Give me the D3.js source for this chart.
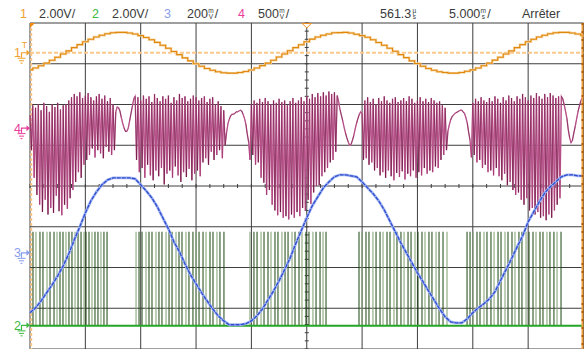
<!DOCTYPE html>
<html>
<head>
<meta charset="utf-8">
<script src="https://cdn.jsdelivr.net/npm/d3@7"></script>
<style>
  body { margin: 0; background: #fff; }
  svg { display: block; font-family: "Liberation Sans", Arial, sans-serif; }
</style>
</head>
<body>
<svg id="scope" width="587" height="349"></svg>
<script>
// ---- acquisition data -------------------------------------------------
// time window: 10 div x 5 ms
const timeSpanMs = 50;

// channel 1, volts, one sample every 0.5 ms
const ch1StepMs = 0.5;
const ch1Volts = [
  -0.84,-0.75,-0.64,-0.51,-0.37,-0.22,-0.06,0.09,0.25,0.40,0.54,0.66,0.77,0.86,0.93,0.98,1.00,1.00,0.97,0.92,
  0.84,0.75,0.64,0.51,0.37,0.22,0.06,-0.09,-0.25,-0.40,-0.54,-0.66,-0.77,-0.86,-0.93,-0.98,-1.00,-1.00,-0.97,-0.92,
  -0.85,-0.75,-0.63,-0.51,-0.37,-0.21,-0.06,0.10,0.25,0.39,0.54,0.67,0.77,0.86,0.92,0.98,0.99,1.00,0.97,0.91,
  0.84,0.76,0.64,0.50,0.37,0.22,0.07,-0.09,-0.24,-0.40,-0.53,-0.66,-0.77,-0.86,-0.93,-0.97,-1.00,-1.00,-0.97,-0.91,
  -0.84,-0.75,-0.64,-0.51,-0.36,-0.22,-0.06,0.09,0.25,0.40,0.54,0.66,0.77,0.86,0.93,0.98,1.00,1.00,0.97,0.92,0.85
];

// channel 3, millivolts, one sample every 0.5 ms
const ch3StepMs = 0.5;
const ch3MilliVolts = [
  -294,-270,-236,-196,-157,-113,-64,-5,64,128,196,255,299,334,358,368,368,368,368,363,
  334,304,270,226,172,118,54,5,-54,-108,-152,-196,-236,-275,-309,-334,-353,-353,-353,-348,
  -334,-309,-275,-231,-187,-137,-83,-25,44,108,172,231,275,319,348,373,383,383,378,373,
  348,319,290,255,211,157,103,49,0,-49,-98,-142,-187,-231,-275,-314,-339,-344,-344,-324,
  -294,-270,-250,-226,-191,-137,-83,-29,29,83,152,201,250,294,324,348,373,383,383,378,378
];

// channel 4, volts; samples every 0.125 ms, stored as alternating pairs (even / odd sample)
const ch4PairMs = 0.25;
const ch4Even = [
  0.16,0.28,0.25,0.29,0.22,0.31,0.27,0.20,0.29,0.26,0.31,0.23,0.28,0.29,0.34,0.38,
  0.42,0.39,0.44,0.37,0.40,0.43,0.38,0.34,0.39,0.42,0.36,0.40,0.33,0.37,0.29,
  0.20,0.25,0.13,0.00,-0.04,0.09,0.27,0.39,
  0.38,0.34,0.40,0.36,0.39,0.32,0.42,0.37,0.33,0.39,0.36,0.40,0.31,0.38,0.34,0.42,
  0.37,0.39,0.33,0.36,0.40,0.38,0.34,0.37,0.39,0.32,0.36,0.38,0.29,0.33,0.27,0.22,
  -0.06,0.11,0.17,0.18,0.20,0.22,0.17,0.05,-0.17,
  0.29,0.34,0.31,0.36,0.32,0.37,0.33,0.29,0.34,0.31,0.36,0.32,0.34,0.28,0.33,0.37,
  0.31,0.34,0.38,0.33,0.39,0.36,0.42,0.38,0.43,0.39,0.44,0.40,0.45,0.42,0.44,
  0.40,0.23,0.09,-0.06,-0.17,-0.20,-0.09,0.06,0.17,0.18,
  0.34,0.38,0.32,0.36,0.29,0.37,0.33,0.39,0.34,0.31,0.36,0.38,0.32,0.34,0.37,
  0.33,0.39,0.36,0.31,0.34,0.38,0.33,0.36,0.32,0.37,0.34,0.31,0.33,0.28,0.25,
  -0.04,0.10,0.16,0.19,0.21,0.22,0.18,0.06,-0.15,
  0.31,0.36,0.33,0.38,0.34,0.32,0.37,0.33,0.39,0.36,0.31,0.38,0.34,0.40,0.37,0.33,
  0.39,0.36,0.42,0.38,0.34,0.40,0.37,0.43,0.39,0.36,0.42,0.38,0.43,0.40,0.37,0.39,
  0.39,0.29,0.12,-0.12,-0.15,0.02,0.20,0.33,0.39
];
const ch4Odd = [
  -0.27,-0.61,-0.82,-0.94,-1.03,-0.88,-1.06,-0.98,-1.04,-0.83,-1.02,-1.07,-0.94,-0.99,-0.86,-0.76,
  -0.66,-0.54,-0.61,-0.45,-0.39,-0.33,-0.25,-0.36,-0.27,-0.31,-0.37,-0.23,-0.29,-0.33,-0.27,
  0.26,0.21,0.06,-0.04,0.00,0.18,0.36,-0.39,
  -0.54,-0.49,-0.61,-0.45,-0.58,-0.64,-0.52,-0.59,-0.49,-0.69,-0.56,-0.52,-0.61,-0.47,-0.58,-0.66,
  -0.54,-0.60,-0.50,-0.64,-0.56,-0.52,-0.59,-0.42,-0.37,-0.45,-0.29,-0.39,-0.33,-0.27,-0.37,-0.21,
  0.05,0.15,0.17,0.20,0.21,0.21,0.12,-0.07,-0.39,
  -0.33,-0.45,-0.42,-0.61,-0.67,-0.82,-0.76,-0.94,-1.01,-1.07,-1.03,-1.10,-1.08,-1.12,-1.06,-1.10,
  -1.03,-1.08,-0.98,-1.01,-0.88,-0.93,-0.79,-0.71,-0.70,-0.59,-0.54,-0.49,-0.42,-0.39,-0.29,
  0.33,0.16,0.01,-0.12,-0.21,-0.15,-0.01,0.12,0.20,-0.39,
  -0.37,-0.45,-0.42,-0.52,-0.49,-0.58,-0.54,-0.61,-0.52,-0.59,-0.64,-0.55,-0.60,-0.53,-0.63,
  -0.56,-0.59,-0.52,-0.61,-0.54,-0.58,-0.49,-0.56,-0.52,-0.54,-0.47,-0.49,-0.39,-0.33,-0.27,
  0.04,0.14,0.18,0.20,0.22,0.20,0.13,-0.05,-0.36,
  -0.33,-0.42,-0.39,-0.49,-0.45,-0.54,-0.52,-0.58,-0.49,-0.59,-0.64,-0.56,-0.70,-0.66,-0.76,-0.82,
  -0.79,-0.88,-0.94,-0.86,-1.01,-0.98,-1.06,-1.03,-1.10,-1.08,-1.13,-1.06,-1.10,-1.01,-0.94,-0.86,
  0.36,0.21,-0.02,-0.18,-0.06,0.11,0.27,0.37
];

// channel 2: logic pulses, start time of each pulse in ms, high level in volts
const ch2HighVolts = 4.6;
const ch2PulseMs = [
  0.27,0.54,0.90,1.17,1.54,1.81,2.17,2.44,2.71,2.98,3.25,3.52,3.79,4.07,4.34,4.61,4.88,5.06,5.33,5.60,5.87,6.14,6.41,6.68,6.96,
  9.58,
  9.85,10.12,10.48,10.75,11.02,11.38,11.65,11.92,12.29,12.56,12.83,13.19,13.46,13.73,14.09,14.36,14.72,15.00,15.27,15.63,15.90,16.26,16.53,16.89,17.16,17.52,
  19.87,20.23,20.51,20.87,21.14,21.50,21.77,22.13,22.40,22.76,23.04,23.31,23.67,23.94,24.30,24.57,24.93,25.20,25.56,25.84,26.20,26.47,26.74,
  29.72,29.99,30.35,30.62,30.98,31.26,31.62,31.89,32.25,32.52,32.88,33.15,33.51,33.79,34.15,34.42,34.78,35.05,35.41,35.68,36.04,36.31,36.68,36.95,37.31,37.67,
  39.48,
  39.75,40.02,40.38,40.65,41.01,41.28,41.64,41.92,42.28,42.55,42.91,43.18,43.54,43.81,44.17,44.44,44.81,45.08,45.44,45.71,46.07,46.34,46.70,46.97,47.33,47.61,47.97
];

// status line texts
const channelIds = ["1", "2", "3", "4"];
const channelScales = ["2.00V/", "2.00V/", "200", "500"];
const channelScaleUnits = [null, null, ["m", "V"], ["m", "V"]];
const delayText = "561.3";
const timebaseText = "5.000";
const runStateText = "Arrêter";

// ---- drawing --------------------------------------------------------
const svg = d3.select("#scope");
const plot = { left: 30, right: 583.5, top: 23, bottom: 349 };

const x = d3.scaleLinear().domain([0, timeSpanMs]).range([plot.left, plot.right]);
const yDiv = d3.scaleLinear().domain([-4, 4]).range([plot.bottom, plot.top]);

const chan = {
  1: { perDiv: 2.0, pos: 3.27, color: "#e0880c", label: "#f0a030" },
  2: { perDiv: 2.0, pos: -3.42, color: "#26a526", label: "#3cb83c" },
  3: { perDiv: 0.2, pos: -1.64, color: "#2d4ed0", label: "#8a9cec" },
  4: { perDiv: 0.5, pos: 1.42, color: "#8a1050", label: "#e8409a" }
};
const yOf = (c, v) => yDiv(v / chan[c].perDiv + chan[c].pos);

// graticule
const grid = svg.append("g").attr("stroke", "#3e3e3e").attr("stroke-width", 1);
grid.selectAll("line.v").data(d3.range(0, 11)).join("line")
  .attr("x1", d => x(d * 5)).attr("x2", d => x(d * 5))
  .attr("y1", plot.top).attr("y2", plot.bottom);
grid.selectAll("line.h").data(d3.range(-4, 5)).join("line")
  .attr("x1", plot.left).attr("x2", plot.right)
  .attr("y1", d => yDiv(d)).attr("y2", d => yDiv(d));
// minor ticks on the centre axes
grid.selectAll("line.tx").data(d3.range(0, 41)).join("line")
  .attr("x1", d => x(d * 1.25)).attr("x2", d => x(d * 1.25))
  .attr("y1", yDiv(0) - 2).attr("y2", yDiv(0) + 2);
grid.selectAll("line.ty").data(d3.range(-20, 21)).join("line")
  .attr("x1", x(25) - 2).attr("x2", x(25) + 2)
  .attr("y1", d => yDiv(d * 0.2)).attr("y2", d => yDiv(d * 0.2));

// trigger level and cursors
svg.append("line")
  .attr("x1", plot.left).attr("x2", plot.right)
  .attr("y1", yOf(1, 0)).attr("y2", yOf(1, 0))
  .attr("stroke", "#fbc88c").attr("stroke-width", 2).attr("stroke-dasharray", "4,2");
svg.append("line")
  .attr("x1", x(0) + 1.2).attr("x2", x(0) + 1.2).attr("y1", plot.top).attr("y2", plot.bottom)
  .attr("stroke", "#f9c488").attr("stroke-width", 2).attr("stroke-dasharray", "3,2");

// channel 2 pulses
const g2 = svg.append("g");
g2.selectAll("line").data(ch2PulseMs).join("line")
  .attr("x1", d => x(d)).attr("x2", d => x(d))
  .attr("y1", yOf(2, 0)).attr("y2", yOf(2, ch2HighVolts))
  .attr("stroke", (d, i) => i % 3 === 1 ? "#7fa070" : "#1f4a12")
  .attr("stroke-width", 1.2).attr("stroke-opacity", 0.85);
g2.append("line")
  .attr("x1", plot.left).attr("x2", plot.right)
  .attr("y1", yOf(2, 0) + 0.5).attr("y2", yOf(2, 0) + 0.5)
  .attr("stroke", chan[2].color).attr("stroke-width", 2);

// channel 4
const ch4Points = [];
ch4Even.forEach((v, k) => {
  ch4Points.push([k * ch4PairMs, v]);
  if (k < ch4Odd.length) ch4Points.push([k * ch4PairMs + ch4PairMs / 2, ch4Odd[k]]);
});
const line4 = d3.line().x(d => x(d[0])).y(d => yOf(4, d[1]));
svg.append("path").attr("d", line4(ch4Points))
  .attr("fill", "none").attr("stroke", "#d078aa").attr("stroke-width", 1.4);
svg.append("g").selectAll("line").data(d3.pairs(ch4Points)).join("line")
  .attr("x1", d => x(d[0][0])).attr("y1", d => yOf(4, d[0][1]))
  .attr("x2", d => x(d[1][0])).attr("y2", d => yOf(4, d[1][1]))
  .attr("stroke", (d, i) => i % 4 < 2 ? "#5a002c" : "#9a2a66")
  .attr("stroke-width", 1).attr("stroke-opacity", 0.55);

// channel 3
const line3 = d3.line()
  .x((d, i) => x(i * ch3StepMs)).y(d => yOf(3, d / 1000));
svg.append("path").attr("d", line3(ch3MilliVolts))
  .attr("fill", "none").attr("stroke", "#a4b4f0").attr("stroke-width", 2.8);
svg.append("path").attr("d", line3(ch3MilliVolts))
  .attr("fill", "none").attr("stroke", chan[3].color).attr("stroke-width", 1.3)
  .attr("stroke-dasharray", "4,1");

// channel 1
const line1 = d3.line().curve(d3.curveStep)
  .x((d, i) => x(i * ch1StepMs)).y(d => yOf(1, d));
svg.append("path").attr("d", line1(ch1Volts))
  .attr("fill", "none").attr("stroke", "#f8d6a6").attr("stroke-width", 2.4);
svg.append("path").attr("d", line1(ch1Volts))
  .attr("fill", "none").attr("stroke", chan[1].color).attr("stroke-width", 1.1);

// right-hand cursor
svg.append("line")
  .attr("x1", plot.right - 1).attr("x2", plot.right - 1).attr("y1", plot.top).attr("y2", plot.bottom)
  .attr("stroke", "#f0a040").attr("stroke-width", 2);
svg.append("line")
  .attr("x1", plot.right - 1).attr("x2", plot.right - 1).attr("y1", plot.top).attr("y2", plot.bottom)
  .attr("stroke", "#b25c00").attr("stroke-width", 2).attr("stroke-dasharray", "2,6");

// trigger position marks
svg.append("path")
  .attr("d", `M${x(0)},${plot.top}h5l-5,5z`).attr("fill", "#f08c10");
svg.append("path")
  .attr("d", `M${x(25) - 4.5},${plot.top + 0.5}h9l-4.5,4.5z`)
  .attr("fill", "#fff").attr("stroke", "#f09020").attr("stroke-width", 1);

// channel ground markers
const markers = svg.append("g");
channelIds.forEach((id, i) => {
  const c = +id, yc = yOf(c, 0), col = chan[c].label;
  markers.append("text").attr("x", 14).attr("y", yc + 4.5).attr("fill", col)
    .attr("font-size", 12.5).text(id);
  markers.append("path")
    .attr("d", `M21.5,${yc + 5}V${yc}H27`)
    .attr("fill", "none").attr("stroke", col).attr("stroke-width", 1.2);
  markers.append("path").attr("d", `M26.5,${yc - 3}L30,${yc}L26.5,${yc + 3}Z`).attr("fill", col);
  markers.append("path")
    .attr("d", `M17.5,${yc + 5.5}H25.5M19,${yc + 8}H24M20.5,${yc + 10.5}H22.5`)
    .attr("fill", "none").attr("stroke", col).attr("stroke-width", 1);
});
markers.append("text").attr("x", 24.5).attr("y", yOf(1, 0) - 5).attr("text-anchor", "middle")
  .attr("fill", chan[1].label).attr("font-size", 9).text("T");

// status line
const head = svg.append("g").attr("font-size", 12.5).attr("fill", "#3a3a3a");
function stackedUnit(xPos, parts, slash) {
  head.append("text").attr("x", xPos + 3).attr("y", 12.5).attr("font-size", 6.5)
    .attr("text-anchor", "middle").text(parts[0]);
  head.append("text").attr("x", xPos + 3).attr("y", 18.5).attr("font-size", 6.5)
    .attr("text-anchor", "middle").text(parts[1]);
  if (slash) head.append("text").attr("x", xPos + 7).attr("y", 18).text("/");
}
const idX = [20, 92, 164, 238];
const scaleX = [39, 112, 187, 258];
channelIds.forEach((id, i) => {
  head.append("text").attr("x", idX[i]).attr("y", 18).attr("fill", chan[+id].label).text(id);
  const t = head.append("text").attr("x", scaleX[i]).attr("y", 18).text(channelScales[i]);
  if (channelScaleUnits[i]) {
    stackedUnit(scaleX[i] + t.node().getComputedTextLength(), channelScaleUnits[i], true);
  }
});
const dt = head.append("text").attr("x", 380).attr("y", 18).text(delayText);
stackedUnit(380 + dt.node().getComputedTextLength(), ["µ", "s"], false);
const tb = head.append("text").attr("x", 449).attr("y", 18).text(timebaseText);
stackedUnit(449 + tb.node().getComputedTextLength(), ["m", "s"], true);
head.append("text").attr("x", 522).attr("y", 18).text(runStateText);
</script>
</body>
</html>
